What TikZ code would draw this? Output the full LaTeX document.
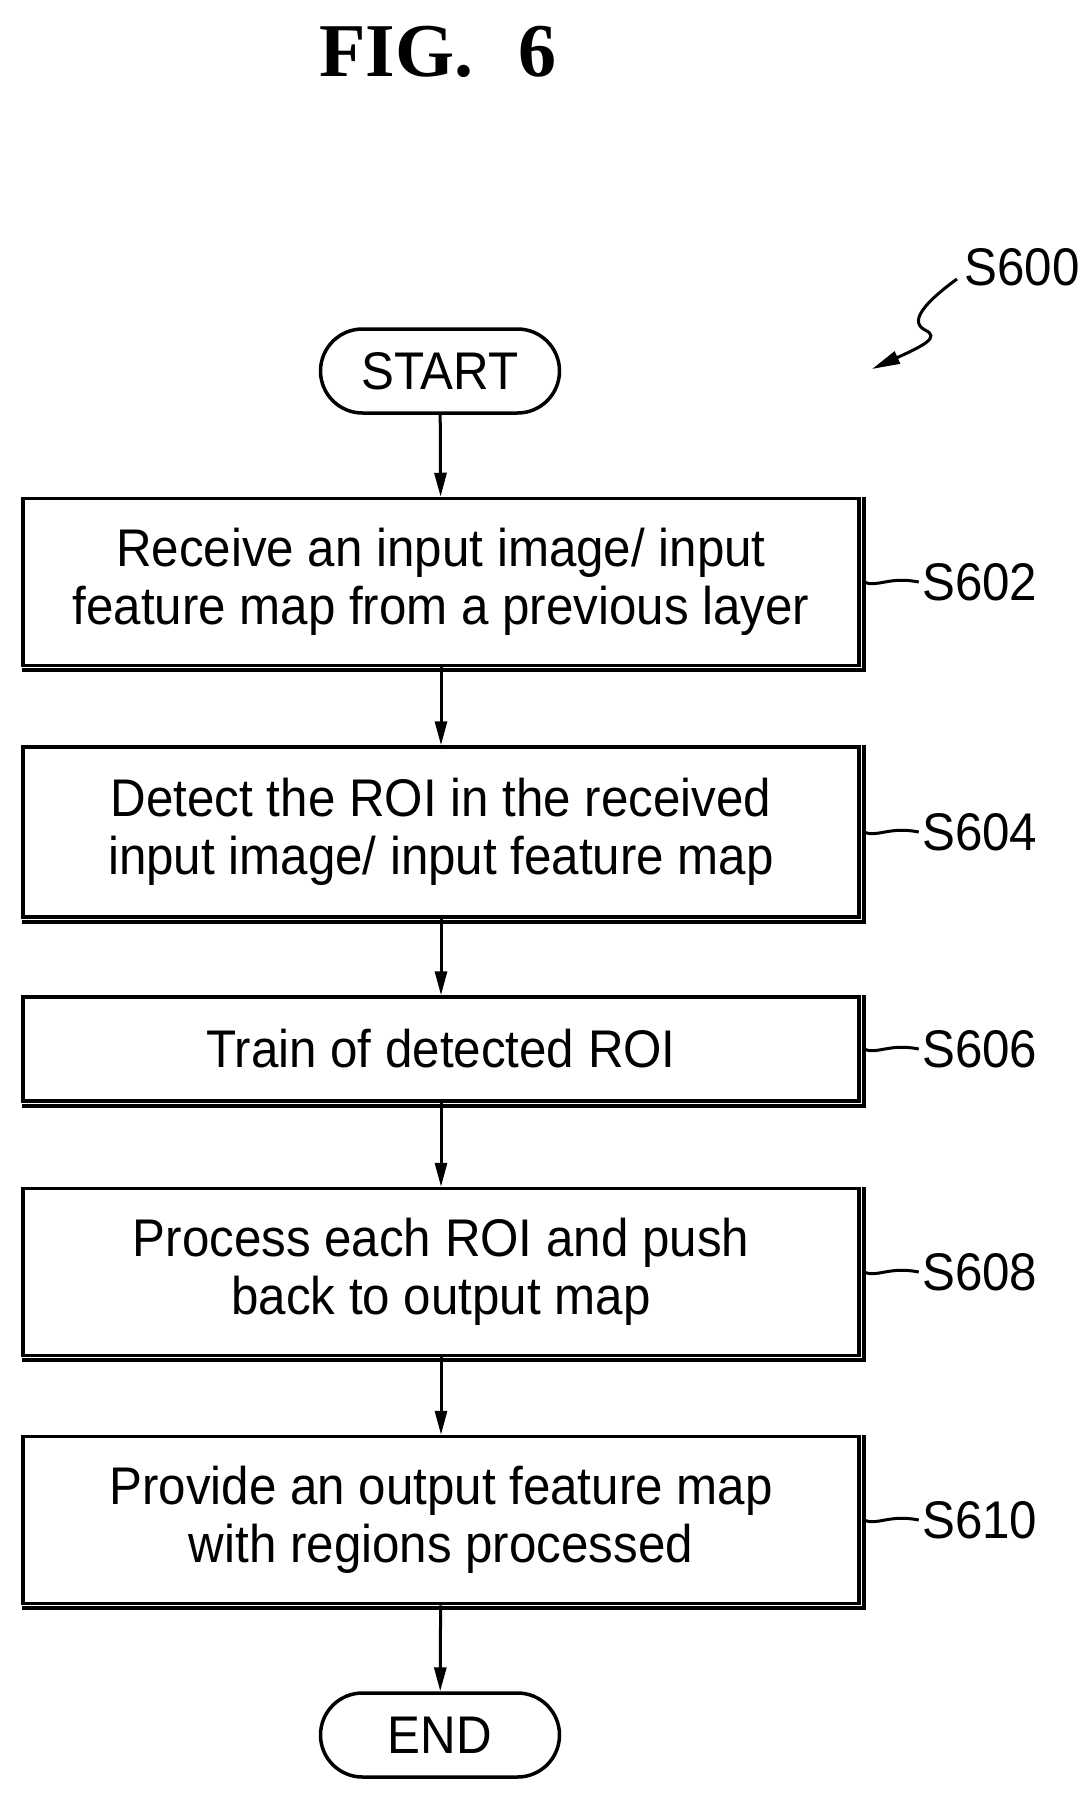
\documentclass[tikz,border=0pt]{standalone}
\usepackage{fontspec}
\setmainfont{Liberation Sans}[FakeStretch=0.93]
\newfontfamily\titlefont{Liberation Serif}
\usetikzlibrary{arrows.meta,shapes.misc}
\begin{document}
\begin{tikzpicture}[x=1pt,y=-1pt,
  every node/.style={font=\fontsize{53}{58}\selectfont},
  box/.style={draw,line width=3.5pt,minimum width=836pt,align=center,inner sep=0pt},
  term/.style={draw,line width=3.5pt,rounded rectangle,minimum width=239pt,minimum height=84pt,inner sep=0pt},
  sh/.style={line width=4pt},
  conn/.style={line width=3pt,-{Triangle[length=24pt,width=12pt]}},
  lead/.style={line width=3pt}]
\useasboundingbox (0,0) rectangle (1090,1796);
\node (title) at (438,52) {\titlefont\bfseries\fontsize{76}{80}\selectfont FIG.\hspace{0.6em}6};
\node (s600) at (1022,267) {S600};
\node[term] (start) at (440,371) {START};
\node[box,minimum height=167pt] (b1) at (441,582) {Receive an input image/ input\\feature map from a previous layer};
\node[box,minimum height=170pt] (b2) at (441,832) {Detect the ROI in the received\\input image/ input feature map};
\node[box,minimum height=104pt] (b3) at (441,1049) {Train of detected ROI};
\node[box,minimum height=167pt] (b4) at (441,1272) {Process each ROI and push\\back to output map};
\node[box,minimum height=167pt] (b5) at (441,1520) {Provide an output feature map\\with regions processed};
\node[term] (end) at (440,1735) {END};
\foreach \b in {b1,b2,b3,b4,b5}{
  \draw[sh] ([xshift=3pt,yshift=0pt]\b.north east) -- ([xshift=3pt,yshift=-3pt]\b.south east) -- ([xshift=1pt,yshift=-3pt]\b.south west);
}
\foreach \b/\l in {b1/S602,b2/S604,b3/S606,b4/S608,b5/S610}{
  \node[anchor=west] (\l) at ([xshift=58pt]\b.east) {\l};
  \draw[lead] ([xshift=3pt]\b.east) .. controls ([xshift=16pt,yshift=-6pt]\b.east) and ([xshift=28pt,yshift=6pt]\b.east) .. (\l.west);
}
\coordinate (sq0) at (957,279);
\coordinate (sq) at (872,369);
\draw[line width=3pt,-{Triangle[length=28pt,width=13pt]}] (sq0) .. controls (935,295) and (905,320) .. (925,330) .. controls (940,337) and (925,345) .. (sq);
\draw[conn] (start) -- (b1);
\draw[conn] (b1) -- (b2);
\draw[conn] (b2) -- (b3);
\draw[conn] (b3) -- (b4);
\draw[conn] (b4) -- (b5);
\draw[conn] (b5) -- (end);
\end{tikzpicture}
\end{document}
